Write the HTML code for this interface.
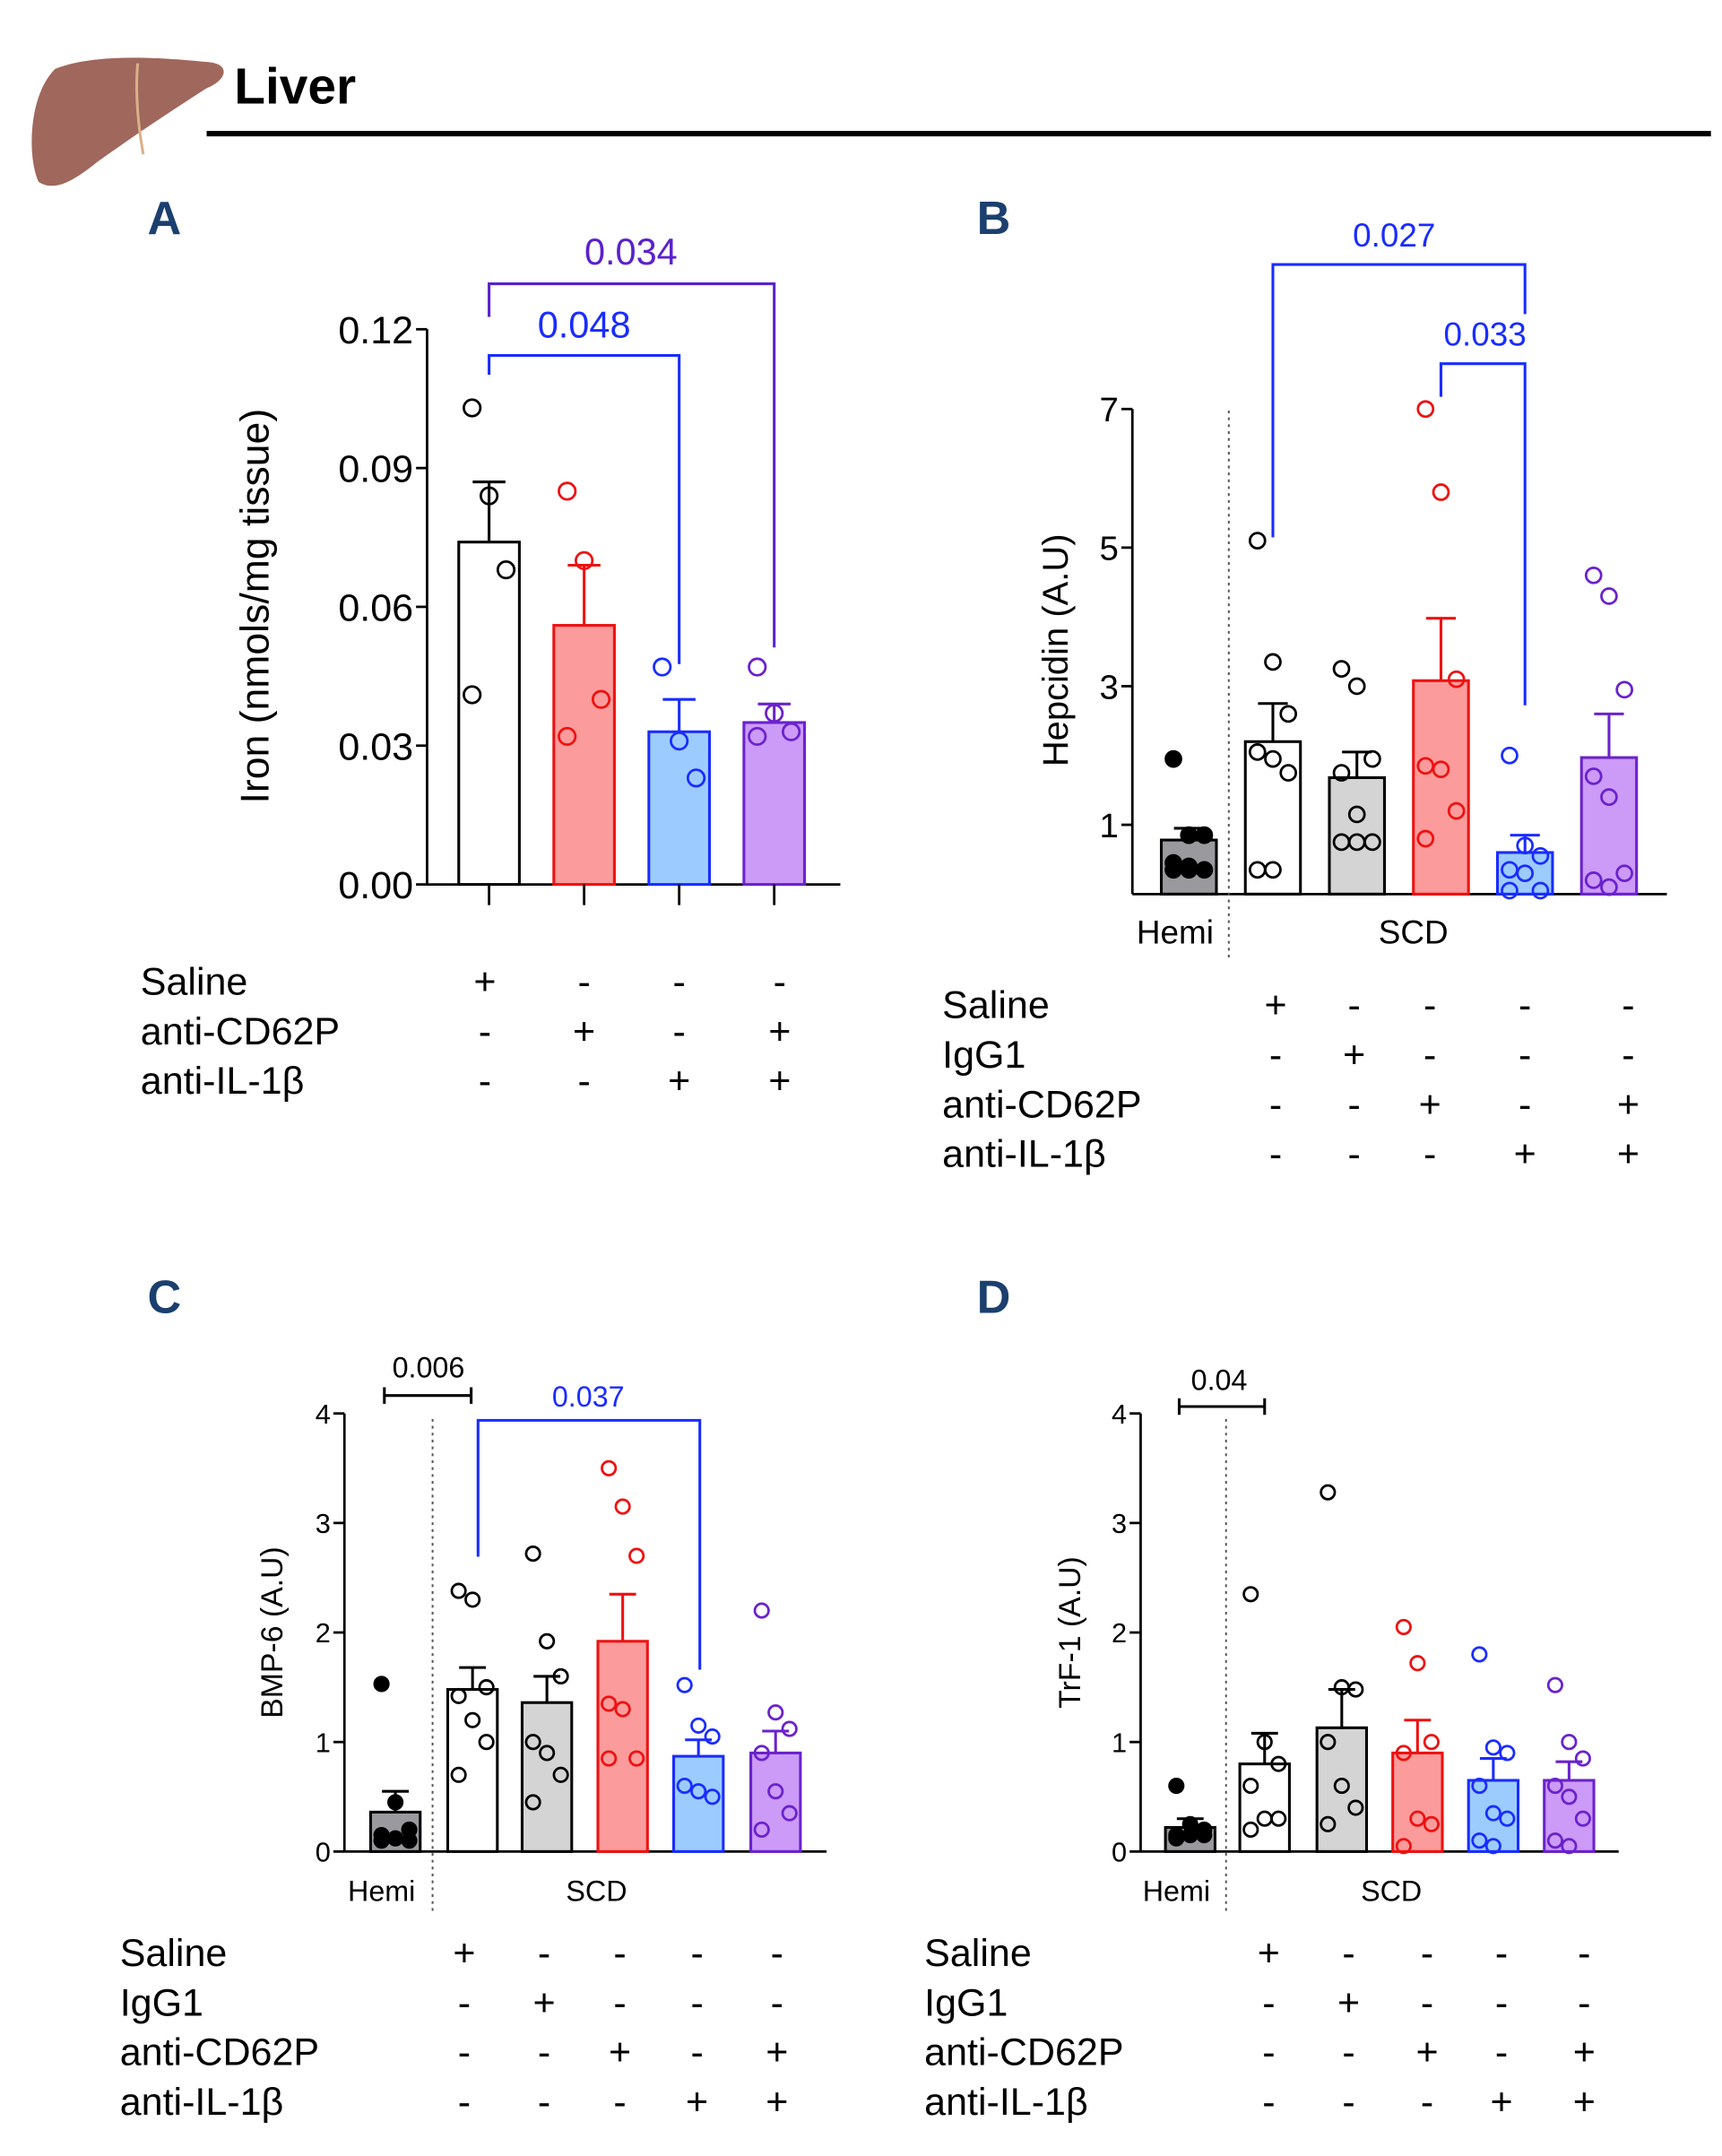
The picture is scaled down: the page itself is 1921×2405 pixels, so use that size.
<!DOCTYPE html>
<html><head><meta charset="utf-8"><style>
html,body{margin:0;padding:0;background:#fff;}
svg{display:block;font-family:"Liberation Sans",Arial,sans-serif;}
</style></head>
<body>
<svg id="fig" width="1921" height="2405" viewBox="0 0 1250 1565" xmlns="http://www.w3.org/2000/svg">
<g>
<path d="M40,50 C70,38 120,42 150,45 C168,46 165,58 150,64 C125,80 95,100 70,118 C55,130 40,140 28,132 C20,115 20,70 40,50 Z" fill="#a0675c"/>
<path d="M100,46 C98,65 100,90 104,112" stroke="#d9b08a" stroke-width="2" fill="none"/>
<text x="170" y="75" font-size="37" font-weight="bold">Liver</text>
<line x1="150" y1="97" x2="1242" y2="97" stroke="#000" stroke-width="4"/>
</g>
<text x="107" y="170" font-size="34" font-weight="bold" fill="#1b3f6e">A</text>
<text x="709" y="170" font-size="34" font-weight="bold" fill="#1b3f6e">B</text>
<text x="107" y="953" font-size="34" font-weight="bold" fill="#1b3f6e">C</text>
<text x="709" y="953" font-size="34" font-weight="bold" fill="#1b3f6e">D</text>
</svg>
<script>
// ---- Panel A data ----
const aMeans = [0.074, 0.056, 0.033, 0.035];
const aSem = [0.013, 0.013, 0.007, 0.004];
const aPoints = [[0.103,0.084,0.068,0.041],[0.085,0.070,0.040,0.032],[0.047,0.031,0.023],[0.047,0.037,0.033,0.032]];
const aTicks = [0, 0.03, 0.06, 0.09, 0.12];
const aTickLabels = ["0.00","0.03","0.06","0.09","0.12"];
// ---- Panel B data ----
const bMeans = [0.78, 2.2, 1.68, 3.08, 0.6, 1.97];
const bSem = [0.17, 0.55, 0.37, 0.9, 0.25, 0.63];
const bPoints = [[1.95,0.85,0.85,0.45,0.4,0.35,0.35,0.35],[5.1,3.35,2.6,2.05,1.95,1.75,0.35,0.35],[3.25,3.0,1.95,1.75,1.15,0.75,0.75,0.75],[7.0,5.8,3.1,1.85,1.8,1.2,0.8],[2.0,0.7,0.55,0.35,0.3,0.05,0.05],[4.6,4.3,2.95,1.7,1.4,0.3,0.2,0.1]];
const bTicks = [1,3,5,7];
const bTickLabels = ["1","3","5","7"];
// ---- Panel C data ----
const cMeans = [0.36, 1.48, 1.36, 1.92, 0.87, 0.9];
const cSem = [0.19, 0.2, 0.24, 0.43, 0.15, 0.2];
const cPoints = [[1.53,0.45,0.2,0.15,0.12,0.1,0.1],[2.38,2.3,1.5,1.42,1.2,1.0,0.7],[2.72,1.92,1.6,1.0,0.9,0.7,0.45],[3.5,3.15,2.7,1.35,1.3,0.85,0.85],[1.52,1.15,1.05,0.6,0.55,0.5],[2.2,1.27,1.12,0.9,0.55,0.35,0.2]];
const cTicks = [0,1,2,3,4];
const cTickLabels = ["0","1","2","3","4"];
// ---- Panel D data ----
const dMeans = [0.22, 0.8, 1.13, 0.9, 0.65, 0.65];
const dSem = [0.08, 0.28, 0.35, 0.3, 0.2, 0.17];
const dPoints = [[0.6,0.25,0.2,0.15,0.15,0.15,0.12],[2.35,1.0,0.8,0.6,0.3,0.3,0.2],[3.28,1.5,1.48,1.0,0.6,0.4,0.25],[2.05,1.72,1.0,0.9,0.3,0.25,0.05],[1.8,0.95,0.9,0.6,0.35,0.3,0.1,0.05],[1.52,1.0,0.85,0.6,0.5,0.3,0.1,0.05]];
const dTicks = [0,1,2,3,4];
const dTickLabels = ["0","1","2","3","4"];

const NS = "http://www.w3.org/2000/svg";
const svg = document.getElementById('fig');
function mk(tag, attrs, parent, txt){
  const e = document.createElementNS(NS, tag);
  for (const k in attrs) e.setAttribute(k, attrs[k]);
  if (txt !== undefined) e.textContent = txt;
  (parent || svg).appendChild(e);
  return e;
}
const STY = {
  hemi:{fill:"#9a9a9e",stroke:"#000",pt:"#000",filled:true},
  white:{fill:"#fff",stroke:"#000",pt:"#000"},
  gray:{fill:"#d4d4d4",stroke:"#000",pt:"#000"},
  red:{fill:"#fb9b9b",stroke:"#ee1111",pt:"#ee1111"},
  blue:{fill:"#9cccff",stroke:"#1a2cff",pt:"#1a2cff"},
  purple:{fill:"#cc9af7",stroke:"#6a22cc",pt:"#6a22cc"}
};

function panel(o){
  const g = mk('g', {});
  
  
  const y = v => o.y0 - (v - o.vmin) * o.ppu;
  const ax = mk('line', {x1:o.ax, y1:o.y0, x2:o.ax, y2:y(o.vmax), stroke:"#000","stroke-width":1.8}, g);
  
  
  const xa = mk('line', {x1:o.ax, y1:o.y0, x2:o.axEnd, y2:o.y0, stroke:"#000","stroke-width":1.8}, g);
  
  
  o.ticks.forEach((t, i) => {
    mk('line', {x1:o.ax-8, y1:y(t), x2:o.ax, y2:y(t), stroke:"#000","stroke-width":1.8}, g);
    const tl = mk('text', {x:o.ax-10, y:y(t)+o.tfs*0.36, "font-size":o.tfs, "text-anchor":"end"}, g, o.tickLabels[i]);
    
    
  });
  const yl = mk('text', {transform:`translate(${o.ylx},${o.yly}) rotate(-90)`, "font-size":o.yfs, "text-anchor":"middle"}, g, o.ylabel);
  
  
  o.means.forEach((m, i) => {
    const s = STY[o.styles[i]], cx = o.cx[i], w = o.bw;
    const bar = mk('rect', {x:cx-w/2, y:y(m), width:w, height:o.y0-y(m), fill:s.fill, stroke:s.stroke, "stroke-width":2}, g);
    
    
    const top = y(m + o.sem[i]);
    mk('line', {x1:cx, y1:y(m), x2:cx, y2:top, stroke:s.stroke, "stroke-width":2}, g);
    mk('line', {x1:cx-w*0.27, y1:top, x2:cx+w*0.27, y2:top, stroke:s.stroke, "stroke-width":2}, g);
    if (o.xticks) mk('line', {x1:cx, y1:o.y0, x2:cx, y2:o.y0+15, stroke:"#000","stroke-width":1.8}, g);
    o.points[i].forEach((v, j) => {
      const off = ((j % 3) - 1) * w * 0.28;
      const p = mk('circle', {cx:cx+off, cy:y(v), r:o.pr, fill:s.filled ? "#000" : "none", stroke:s.pt, "stroke-width":1.8}, g);
      
      
    });
  });
  if (o.divX) {
    mk('line', {x1:o.divX, y1:o.divY1, x2:o.divX, y2:o.divY2, stroke:"#555","stroke-width":1.3,"stroke-dasharray":"2,3"}, g);
    const h = mk('text', {x:o.cx[0]-10, y:o.y0+36, "font-size":o.gfs, "text-anchor":"middle"}, g, "Hemi");
    
    
    const sc = mk('text', {x:o.scdX, y:o.y0+36, "font-size":o.gfs, "text-anchor":"middle"}, g, "SCD");
    
    
  }
  (o.brackets || []).forEach(b => {
    const p = mk('path', {d:`M${b.x1},${b.y1} V${b.top} H${b.x2} V${b.y2}`, fill:"none", stroke:b.color, "stroke-width":2}, g);
    
    
    const t = mk('text', {x:b.tx, y:b.ty, "font-size":b.fs, fill:b.color, "text-anchor":"middle"}, g, b.label);
    
    
  });
  o.rows.forEach((r, ri) => {
    const ry = o.tableY + ri * o.rowH;
    const lbl = mk('text', {x:o.tableX, y:ry, "font-size":o.tabfs}, g, r[0]);
    
    
    r[1].forEach((sgn, ci) => {
      const t = mk('text', {x:o.cols[ci], y:ry, "font-size":o.tabfs, "text-anchor":"middle"}, g, sgn);
      
      
    });
  });
}

panel({name:"panel-a-iron-chart", ax:310, axEnd:610, y0:642, vmin:0, vmax:0.12, ppu:403/0.12,
  ticks:aTicks, tickLabels:aTickLabels, tfs:28, ylabel:"Iron (nmols/mg tissue)", ylx:195, yly:440, yfs:29,
  means:aMeans, sem:aSem, points:aPoints, styles:["white","red","blue","purple"],
  cx:[355,424,493,562], bw:44, pr:6, xticks:true,
  brackets:[
    {x1:355,y1:272,top:258,x2:493,y2:482,color:"#1a2cff",label:"0.048",tx:424,ty:245,fs:27},
    {x1:355,y1:230,top:206,x2:562,y2:470,color:"#5a22cc",label:"0.034",tx:458,ty:192,fs:27}],
  rows:[["Saline",["+","-","-","-"]],["anti-CD62P",["-","+","-","+"]],["anti-IL-1β",["-","-","+","+"]]],
  tableX:102, tableY:722, rowH:36, tabfs:28, cols:[352,424,493,566]});

panel({name:"panel-b-hepcidin-chart", ax:822, axEnd:1210, y0:649, vmin:0, vmax:7, ppu:50.3,
  ticks:bTicks, tickLabels:bTickLabels, tfs:25, ylabel:"Hepcidin (A.U)", ylx:775, yly:472, yfs:26,
  means:bMeans, sem:bSem, points:bPoints, styles:["hemi","white","gray","red","blue","purple"],
  cx:[863,924,985,1046,1107,1168], bw:40, pr:5.5,
  divX:892, divY1:298, divY2:695, gfs:24, scdX:1026,
  brackets:[
    {x1:924,y1:390,top:192,x2:1107,y2:228,color:"#1a2cff",label:"0.027",tx:1012,ty:179,fs:24},
    {x1:1046,y1:288,top:264,x2:1107,y2:512,color:"#1a2cff",label:"0.033",tx:1078,ty:251,fs:24}],
  rows:[["Saline",["+","-","-","-","-"]],["IgG1",["-","+","-","-","-"]],["anti-CD62P",["-","-","+","-","+"]],["anti-IL-1β",["-","-","-","+","+"]]],
  tableX:684, tableY:739, rowH:36, tabfs:28, cols:[926,983,1038,1107,1182]});

panel({name:"panel-c-bmp6-chart", ax:250, axEnd:600, y0:1344, vmin:0, vmax:4, ppu:79.5,
  ticks:cTicks, tickLabels:cTickLabels, tfs:20, ylabel:"BMP-6 (A.U)", ylx:205, yly:1185, yfs:22,
  means:cMeans, sem:cSem, points:cPoints, styles:["hemi","white","gray","red","blue","purple"],
  cx:[287,343,397,452,507,563], bw:36, pr:5,
  divX:314, divY1:1030, divY2:1390, gfs:21, scdX:433,
  brackets:[
    {x1:279,y1:1007,top:1013,x2:279,y2:1019,color:"#000",label:"",tx:0,ty:0,fs:1},
    {x1:279,y1:1013,top:1013,x2:342,y2:1013,color:"#000",label:"0.006",tx:311,ty:1000,fs:21},
    {x1:342,y1:1007,top:1013,x2:342,y2:1019,color:"#000",label:"",tx:0,ty:0,fs:1},
    {x1:347,y1:1130,top:1031,x2:508,y2:1212,color:"#1a2cff",label:"0.037",tx:427,ty:1021,fs:21}],
  rows:[["Saline",["+","-","-","-","-"]],["IgG1",["-","+","-","-","-"]],["anti-CD62P",["-","-","+","-","+"]],["anti-IL-1β",["-","-","-","+","+"]]],
  tableX:87, tableY:1427, rowH:36, tabfs:28, cols:[337,395,450,506,564]});

panel({name:"panel-d-trf1-chart", ax:828, axEnd:1175, y0:1344, vmin:0, vmax:4, ppu:79.5,
  ticks:dTicks, tickLabels:dTickLabels, tfs:20, ylabel:"TrF-1 (A.U)", ylx:784, yly:1185, yfs:22,
  means:dMeans, sem:dSem, points:dPoints, styles:["hemi","white","gray","red","blue","purple"],
  cx:[864,918,974,1029,1084,1139], bw:36, pr:5,
  divX:890, divY1:1030, divY2:1390, gfs:21, scdX:1010,
  brackets:[
    {x1:856,y1:1015,top:1021,x2:856,y2:1027,color:"#000",label:"",tx:0,ty:0,fs:1},
    {x1:856,y1:1021,top:1021,x2:918,y2:1021,color:"#000",label:"0.04",tx:885,ty:1009,fs:21},
    {x1:918,y1:1015,top:1021,x2:918,y2:1027,color:"#000",label:"",tx:0,ty:0,fs:1}],
  rows:[["Saline",["+","-","-","-","-"]],["IgG1",["-","+","-","-","-"]],["anti-CD62P",["-","-","+","-","+"]],["anti-IL-1β",["-","-","-","+","+"]]],
  tableX:671, tableY:1427, rowH:36, tabfs:28, cols:[921,979,1036,1090,1150]});
</script>
</body></html>
